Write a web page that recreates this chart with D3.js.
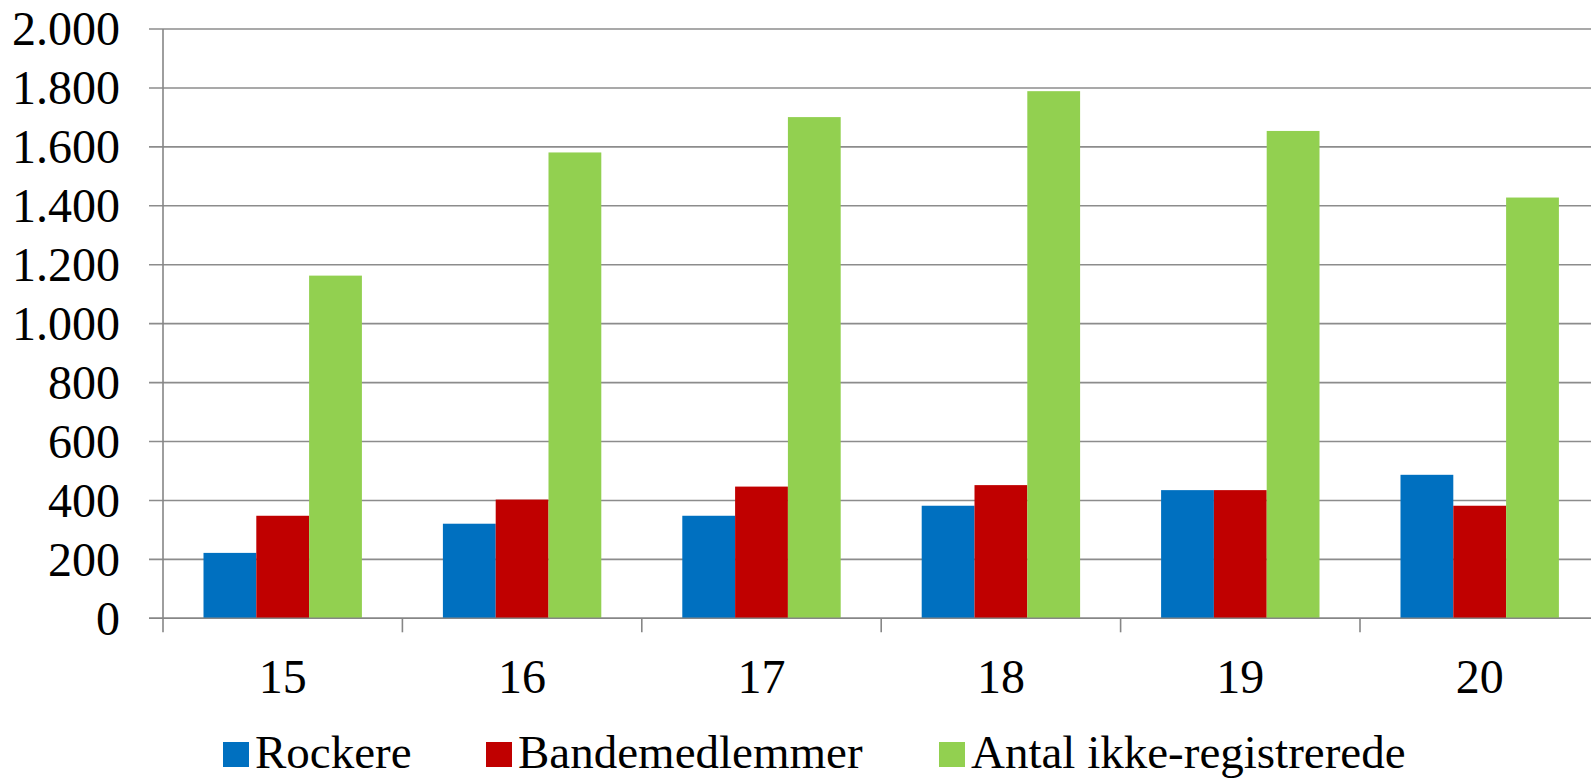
<!DOCTYPE html>
<html>
<head>
<meta charset="utf-8">
<script src="https://cdn.jsdelivr.net/npm/d3@7"></script>
<style>
html,body{margin:0;padding:0;background:#fff;overflow:hidden;}
</style>
</head>
<body>
<svg id="chart" width="1591" height="778"></svg>
<script>
const categories = ["15","16","17","18","19","20"];
const seriesNames = ["Rockere","Bandemedlemmer","Antal ikke-registrerede"];
const rockere = [222, 321, 348, 382, 435, 487];
const bandemedlemmer = [348, 403, 447, 452, 435, 382];
const ikkeRegistrerede = [1163, 1581, 1701, 1789, 1654, 1428];
const yTicks = [0,200,400,600,800,1000,1200,1400,1600,1800,2000];
const colors = ["#0070C0","#C00000","#92D050"];

(function(){
const FONT = "'Liberation Serif', 'DejaVu Serif', serif";
const seriesValues = [rockere, bandemedlemmer, ikkeRegistrerede];
const svg = d3.select("#chart");
const W = 1591;
const plotLeft = 163, bandW = 239.4, plotTop = 29, plotBottom = 618.3;

const x0 = d3.scaleBand().domain(categories).range([plotLeft, plotLeft + categories.length*bandW]).padding(0);
const x1 = d3.scaleBand().domain(seriesNames).range([0, x0.bandwidth()]).paddingInner(0).paddingOuter(0.767);
const y = d3.scaleLinear().domain([0,2000]).range([plotBottom, plotTop]);

const fmt = d => d3.format(",")(d).replace(/,/g, ".");

// gridlines
svg.append("g").selectAll("line").data(yTicks).join("line")
  .attr("x1", plotLeft - 14).attr("x2", W)
  .attr("y1", d => y(d)).attr("y2", d => y(d))
  .attr("stroke", "#8c8c8c").attr("stroke-width", 1.6);

// y labels
svg.append("g").selectAll("text").data(yTicks).join("text")
  .attr("x", 120).attr("y", d => y(d))
  .attr("dy", "0.34em")
  .attr("text-anchor", "end")
  .attr("font-family", FONT)
  .attr("font-size", 48)
  .attr("fill", "#000")
  .text(fmt);

// bars
const data = [];
categories.forEach((c, i) => seriesNames.forEach((s, j) => data.push({c, s, v: seriesValues[j][i], col: colors[j]})));
svg.append("g").selectAll("rect").data(data).join("rect")
  .attr("x", d => x0(d.c) + x1(d.s))
  .attr("width", x1.bandwidth())
  .attr("y", d => y(d.v))
  .attr("height", d => y(0) - y(d.v))
  .attr("fill", d => d.col);

// y axis line
svg.append("line").attr("x1", plotLeft).attr("x2", plotLeft).attr("y1", plotTop).attr("y2", plotBottom)
  .attr("stroke", "#868686").attr("stroke-width", 1.6);
// x axis line
svg.append("line").attr("x1", plotLeft - 14).attr("x2", W).attr("y1", plotBottom).attr("y2", plotBottom)
  .attr("stroke", "#868686").attr("stroke-width", 1.6);

// category ticks
const tickXs = categories.map(c => x0(c));
svg.append("g").selectAll("line").data(tickXs).join("line")
  .attr("x1", d => d).attr("x2", d => d)
  .attr("y1", plotBottom).attr("y2", plotBottom + 14)
  .attr("stroke", "#868686").attr("stroke-width", 1.6);

// category labels
svg.append("g").selectAll("text").data(categories).join("text")
  .attr("x", d => x0(d) + x0.bandwidth()/2)
  .attr("y", 693)
  .attr("text-anchor", "middle")
  .attr("font-family", FONT)
  .attr("font-size", 48)
  .attr("fill", "#000")
  .text(d => d);

// legend
const legendX = [223, 486, 939];
const lg = svg.append("g").selectAll("g").data(seriesNames).join("g")
  .attr("transform", (d, i) => `translate(${legendX[i]},0)`);
lg.append("rect").attr("x", 0).attr("y", 742).attr("width", 26).attr("height", 25)
  .attr("fill", (d, i) => colors[i]);
lg.append("text").attr("x", 32).attr("y", 768)
  .attr("font-family", FONT)
  .attr("font-size", 47)
  .attr("fill", "#000")
  .text(d => d);
})();
</script>
</body>
</html>
